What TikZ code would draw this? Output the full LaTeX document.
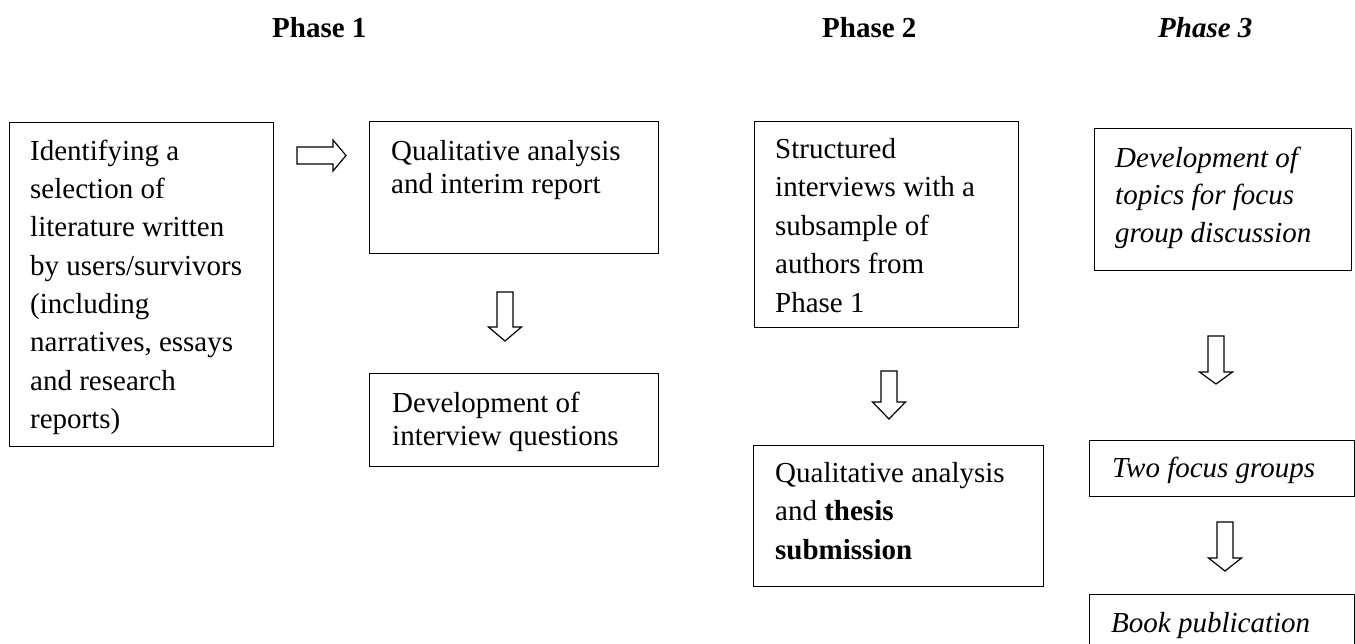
\documentclass[tikz,border=0pt]{standalone}
\usepackage{fontspec}
\setmainfont{Liberation Serif}
\newcommand{\fst}{\rule{0pt}{25pt}}
\tikzset{
  boxnode/.style={draw, line width=1.3pt, inner sep=0pt, anchor=north west},
  txt/.style={anchor=north west, inner sep=0pt, align=left},
  heading/.style={anchor=base west, inner sep=0pt, font=\fontsize{29}{34}\selectfont\bfseries},
  blockarrow/.style={draw, line width=1.2pt, fill=white, line join=miter},
}
% down block arrow: #1 x centre, #2 y top, #3 y tip, #4 head length
\newcommand{\dnblock}[4]{%
  \draw[blockarrow] ({#1-8},#2) -- ({#1+8},#2) -- ({#1+8},{#3-#4}) -- ({#1+16.5},{#3-#4})
    -- (#1,#3) -- ({#1-16.5},{#3-#4}) -- ({#1-8},{#3-#4}) -- cycle;}
\begin{document}
\begin{tikzpicture}[x=1pt,y=-1pt]
\useasboundingbox (0,0) rectangle (1355,643);
\clip (0,0) rectangle (1355,643);
\fill[white] (0,0) rectangle (1355,643);

% headings
\node[heading] (ph1) at (272,37) {Phase 1};
\node[heading] (ph2) at (822,37) {Phase 2};
\node[heading, font=\fontsize{29}{34}\selectfont\bfseries\itshape] (ph3) at (1158,37) {Phase 3};

% boxes
\node[boxnode, minimum width=264, minimum height=324] (A) at (9,122) {};
\node[boxnode, minimum width=289, minimum height=132] (B) at (369,121) {};
\node[boxnode, minimum width=289, minimum height=93] (C) at (369,373) {};
\node[boxnode, minimum width=264, minimum height=206] (D) at (754,121) {};
\node[boxnode, minimum width=290, minimum height=141] (E) at (753,445) {};
\node[boxnode, minimum width=257, minimum height=142] (F) at (1094,128) {};
\node[boxnode, minimum width=265, minimum height=56] (G) at (1089,440) {};
\node[boxnode, minimum width=265, minimum height=70] (H) at (1089,594) {};

% texts
\node[txt, font=\fontsize{29}{38.3}\selectfont] (tA) at (30,135) {\fst Identifying a\\selection of\\literature written\\by users/survivors\\(including\\narratives, essays\\and research\\reports)};
\node[txt, font=\fontsize{29}{33}\selectfont] (tB) at (391,135) {\fst Qualitative analysis\\and interim report};
\node[txt, font=\fontsize{29}{33}\selectfont] (tC) at (392,387) {\fst Development of\\interview questions};
\node[txt, font=\fontsize{29}{38.5}\selectfont] (tD) at (775,133) {\fst Structured\\interviews with a\\subsample of\\authors from\\Phase 1};
\node[txt, font=\fontsize{29}{38.7}\selectfont] (tE) at (775,457) {\fst Qualitative analysis\\and \textbf{thesis}\\\textbf{submission}};
\node[txt, font=\fontsize{29}{37.5}\selectfont\itshape] (tF) at (1115,142) {\fst Development of\\topics for focus\\group discussion};
\node[txt, font=\fontsize{29}{34}\selectfont\itshape] (tG) at (1112,452) {\fst Two focus groups};
\node[txt, font=\fontsize{29}{34}\selectfont\itshape] (tH) at (1111,607) {\fst Book publication};

% block arrows
\draw[blockarrow] (297,147) -- (333,147) -- (333,140) -- (346,155.5) -- (333,171) -- (333,164) -- (297,164) -- cycle;
\dnblock{505}{292}{341}{14}
\dnblock{889}{371}{419}{17}
\dnblock{1216}{336}{384}{12}
\dnblock{1225}{522}{571}{13}
\end{tikzpicture}
\end{document}
